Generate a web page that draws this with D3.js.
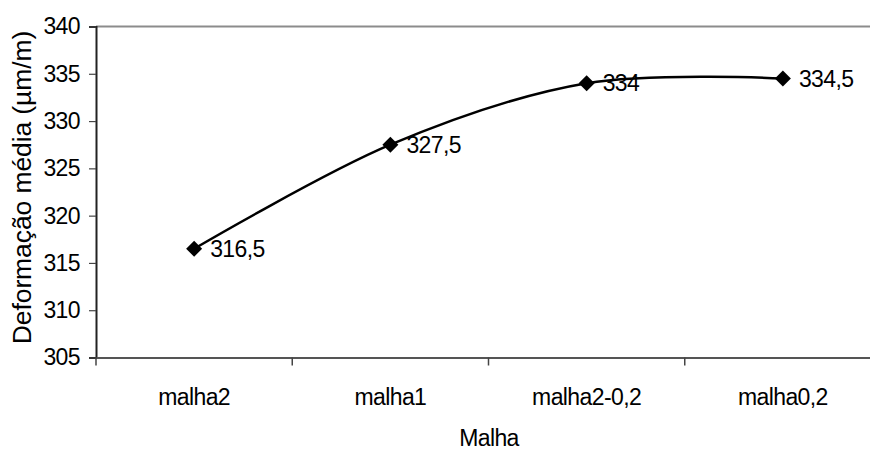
<!DOCTYPE html>
<html><head><meta charset="utf-8">
<script src="https://cdn.jsdelivr.net/npm/d3@7"></script>
<style>body{margin:0;background:#fff}svg{display:block}text{font-family:"Liberation Sans",Arial,sans-serif;fill:#000}</style>
</head><body><svg id="c" width="870" height="450"></svg>
<script>
const categories = ["malha2","malha1","malha2-0,2","malha0,2"];
const values = [316.5,327.5,334,334.5];
const labels = ["316,5","327,5","334","334,5"];
const yTicks = [305,310,315,320,325,330,335,340];

(function(){
const svg = d3.select("#c");
const pl = 96, pr = 881, pt = 26.5, pb = 357.5;
const x = d3.scaleBand().domain(categories).range([pl, pr]);
const y = d3.scaleLinear().domain([305,340]).range([pb, pt]);
const fs = 23, ls = -0.6;

// plot border top (grey)
svg.append("line").attr("x1",pl).attr("x2",pr).attr("y1",pt).attr("y2",pt).attr("stroke","#8c8c8c").attr("stroke-width",2);

// y axis
const ya = svg.append("g").attr("transform",`translate(${pl},0)`)
  .call(d3.axisLeft(y).tickValues(yTicks).tickSize(7).tickPadding(9).tickFormat(d3.format("d")));
ya.select(".domain").attr("stroke","#222").attr("stroke-width",2);
ya.selectAll(".tick line").attr("stroke","#444").attr("stroke-width",1.2);
ya.selectAll("text").attr("font-size",fs).attr("font-family","Liberation Sans, Arial").attr("fill","#000").attr("letter-spacing",ls);

// x axis
const xa = svg.append("g").attr("transform",`translate(0,${pb})`)
  .call(d3.axisBottom(x).tickSize(0).tickPadding(31));
xa.select(".domain").attr("stroke","#555").attr("stroke-width",2);
xa.selectAll("text").attr("font-size",fs).attr("font-family","Liberation Sans, Arial").attr("fill","#000").attr("letter-spacing",ls);
const bounds = categories.map(c => x(c));
xa.selectAll(".btick").data(bounds).enter().append("line").attr("class","btick")
  .attr("x1",d=>d).attr("x2",d=>d).attr("y1",0).attr("y2",8).attr("stroke","#444").attr("stroke-width",1.5);

// axis titles
svg.append("text").attr("transform",`translate(31,187.5) rotate(-90)`).attr("text-anchor","middle")
  .attr("font-size",26.5).attr("letter-spacing",-0.1).text("Deformação média (µm/m)");
svg.append("text").attr("x",489).attr("y",446).attr("text-anchor","middle")
  .attr("font-size",fs).attr("letter-spacing",ls).text("Malha");

// line
const pts = categories.map((c,i)=>[x(c)+x.bandwidth()/2, y(values[i])]);
svg.append("path").attr("d", d3.line().curve(d3.curveCardinal.tension(0))(pts))
  .attr("fill","none").attr("stroke","#000").attr("stroke-width",2.5);

// markers
svg.selectAll(".m").data(pts).enter().append("path").attr("class","m")
  .attr("transform",d=>`translate(${d[0]},${d[1]})`)
  .attr("d","M0,-8L8,0L0,8L-8,0Z").attr("fill","#000");

// data labels
svg.selectAll(".lbl").data(pts).enter().append("text").attr("class","lbl")
  .attr("x",d=>d[0]+16).attr("y",d=>d[1]+8).attr("font-size",fs).attr("letter-spacing",ls)
  .text((d,i)=>labels[i]);
})();
</script></body></html>
